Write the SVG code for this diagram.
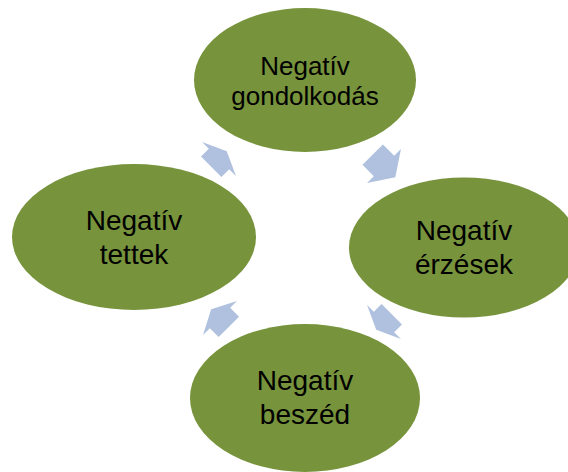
<svg xmlns="http://www.w3.org/2000/svg" width="568" height="472" viewBox="0 0 568 472">
<defs>
<style>
.node{fill:#77933C;}
.lbl{font-family:"Liberation Sans",Arial,sans-serif;font-size:28px;fill:#000;text-anchor:middle;}
.sm{font-size:26px;}
.arr{fill:#AFC1DE;}
</style>
</defs>
<rect width="568" height="472" fill="#FFFFFF"/>
<g id="connectors">
<path class="arr" transform="translate(384,166) rotate(45)" d="M-16,-14.4 H0 V-24 L16,0 L0,24 V14.4 H-16 Z"/>
<path class="arr" transform="translate(384,322) rotate(135)" d="M-11,-14.4 H0 V-24 L11,0 L0,24 V14.4 H-11 Z"/>
<path class="arr" transform="translate(220,318) rotate(225)" d="M-12.5,-14.4 H0 V-24 L12.5,0 L0,24 V14.4 H-12.5 Z"/>
<path class="arr" transform="translate(219,159) rotate(315)" d="M-11,-14.4 H0 V-24 L11,0 L0,24 V14.4 H-11 Z"/>
</g>
<g id="node-gondolkodas">
<ellipse class="node" cx="305" cy="80" rx="111" ry="72"/>
<text class="lbl sm" x="305" y="75">Negatív</text>
<text class="lbl sm" x="305" y="105">gondolkodás</text>
</g>
<g id="node-erzesek">
<ellipse class="node" cx="464" cy="247.5" rx="115" ry="70"/>
<text class="lbl" x="464" y="240">Negatív</text>
<text class="lbl" x="464" y="274">érzések</text>
</g>
<g id="node-beszed">
<ellipse class="node" cx="305" cy="398" rx="115" ry="74"/>
<text class="lbl" x="305" y="390">Negatív</text>
<text class="lbl" x="305" y="424">beszéd</text>
</g>
<g id="node-tettek">
<ellipse class="node" cx="134" cy="237" rx="122" ry="73"/>
<text class="lbl" x="134" y="230">Negatív</text>
<text class="lbl" x="134" y="264">tettek</text>
</g>
</svg>
